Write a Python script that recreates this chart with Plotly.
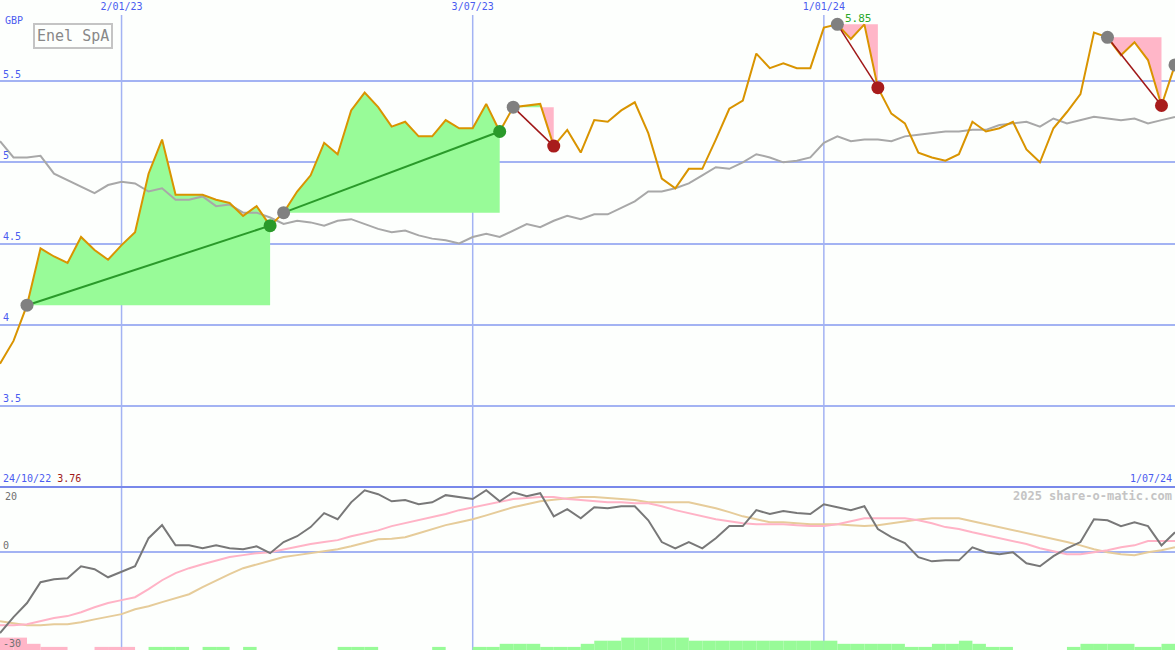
import plotly.graph_objects as go

# Enel SpA, weekly closes in GBP (x = week number, one point per week)
date_tick_weeks = [9, 35, 61]
date_tick_labels = ["2/01/23", "3/07/23", "1/01/24"]
first_date = "24/10/22"
last_date = "1/07/24"
first_close = "3.76"

price_ticks = [3.5, 4, 4.5, 5, 5.5]
price_tick_labels = ["3.5", "4", "4.5", "5", "5.5"]
osc_ticks = [0, -30]
osc_tick_labels = ["0", "-30"]
osc_top_label = "20"

price = [3.76, 3.90, 4.12, 4.47, 4.42, 4.38, 4.54, 4.46, 4.40, 4.49,
         4.57, 4.93, 5.14, 4.80, 4.80, 4.80, 4.77, 4.75, 4.67, 4.73,
         4.61, 4.69, 4.82, 4.92, 5.12, 5.05, 5.32, 5.43, 5.34, 5.22,
         5.25, 5.16, 5.16, 5.26, 5.21, 5.21, 5.36, 5.19, 5.34, 5.35,
         5.36, 5.10, 5.20, 5.06, 5.26, 5.25, 5.32, 5.37, 5.18, 4.90,
         4.84, 4.96, 4.96, 5.14, 5.33, 5.38, 5.67, 5.58, 5.61, 5.58,
         5.58, 5.83, 5.85, 5.76, 5.85, 5.46, 5.30, 5.24, 5.06, 5.03,
         5.01, 5.05, 5.25, 5.19, 5.21, 5.25, 5.08, 5.00, 5.21, 5.31,
         5.42, 5.80, 5.77, 5.66, 5.74, 5.63, 5.35, 5.60]

# comparison index, rebased to the share price
index_line = [5.13, 5.03, 5.03, 5.04, 4.93, 4.89, 4.85, 4.81, 4.86, 4.88,
              4.87, 4.82, 4.84, 4.77, 4.77, 4.79, 4.73, 4.74, 4.69, 4.69,
              4.66, 4.62, 4.64, 4.63, 4.61, 4.64, 4.65, 4.62, 4.59, 4.57,
              4.58, 4.55, 4.53, 4.52, 4.50, 4.54, 4.56, 4.54, 4.58, 4.62,
              4.60, 4.64, 4.67, 4.65, 4.68, 4.68, 4.72, 4.76, 4.82, 4.82,
              4.84, 4.87, 4.92, 4.97, 4.96, 5.00, 5.05, 5.03, 5.00, 5.01,
              5.03, 5.12, 5.16, 5.13, 5.14, 5.14, 5.13, 5.16, 5.17, 5.18,
              5.19, 5.19, 5.20, 5.20, 5.23, 5.24, 5.25, 5.22, 5.27, 5.24,
              5.26, 5.28, 5.27, 5.26, 5.27, 5.24, 5.26, 5.28]

momentum = [-24.8, -19.9, -15.6, -9.2, -8.3, -8.0, -4.3, -5.2, -7.7, -6.1,
            -4.3, 4.3, 8.3, 2.1, 2.1, 1.2, 2.1, 1.2, 0.9, 1.8,
            -0.3, 3.1, 4.9, 7.7, 12.0, 10.1, 15.3, 19.0, 17.8, 15.6,
            16.0, 14.7, 15.3, 17.5, 16.9, 16.3, 19.0, 15.6, 18.4, 17.2,
            18.1, 11.0, 13.2, 10.4, 13.8, 13.5, 14.1, 14.1, 9.8, 3.1,
            1.2, 3.1, 1.2, 4.3, 8.0, 8.0, 12.9, 11.7, 12.6, 12.0,
            11.7, 14.7, 13.8, 12.9, 14.1, 7.1, 4.6, 2.8, -1.5, -2.8,
            -2.5, -2.5, 1.5, 0.0, -0.6, 0.0, -3.4, -4.3, -1.2, 1.2,
            3.1, 10.1, 9.8, 8.0, 9.2, 8.0, 2.1, 6.1]

avg_fast = [-22.4, -22.4, -22.1, -21.2, -20.2, -19.6, -18.4, -16.9, -15.6, -14.7,
            -13.8, -11.3, -8.6, -6.4, -4.9, -3.7, -2.5, -1.5, -0.9, -0.3,
            0.0, 0.9, 1.8, 2.5, 3.1, 3.7, 4.9, 5.8, 6.7, 8.0,
            8.9, 9.8, 10.7, 11.7, 12.9, 13.8, 14.7, 15.6, 16.3, 16.6,
            16.9, 16.9, 16.3, 16.0, 15.6, 15.3, 15.3, 15.0, 15.0, 14.1,
            12.9, 12.0, 11.0, 10.1, 9.5, 8.9, 8.6, 8.6, 8.6, 8.3,
            8.0, 8.0, 8.6, 9.5, 10.4, 10.4, 10.4, 10.4, 9.8, 8.9,
            7.7, 7.1, 6.1, 5.2, 4.3, 3.4, 2.5, 1.2, 0.3, -0.6,
            -0.6, 0.0, 0.6, 1.5, 2.1, 3.4, 3.4, 3.4]

avg_slow = [-21.2, -21.8, -22.4, -22.4, -22.1, -22.1, -21.5, -20.6, -19.9, -19.0,
            -17.5, -16.6, -15.3, -14.1, -12.9, -10.7, -8.6, -6.7, -4.9, -3.7,
            -2.5, -1.5, -0.9, -0.3, 0.3, 0.9, 1.8, 2.8, 4.0, 4.1,
            4.6, 5.8, 7.1, 8.3, 9.2, 10.1, 11.3, 12.6, 13.8, 14.7,
            15.6, 16.1, 16.6, 16.9, 16.9, 16.6, 16.3, 16.0, 15.3, 15.3,
            15.3, 15.3, 14.4, 13.5, 12.3, 11.0, 10.1, 9.2, 9.2, 8.9,
            8.6, 8.6, 8.6, 8.3, 8.0, 8.3, 8.9, 9.5, 10.0, 10.4,
            10.4, 10.4, 9.5, 8.6, 7.7, 6.7, 5.8, 5.1, 4.0, 3.1,
            2.1, 0.9, 0.0, -0.6, -0.9, 0.0, 0.6, 1.5]

# strength bars at the foot of the lower panel (+ green, - pink)
bar_levels = [-4, -4, -2, -1, -1, 0, 0, -1, -1, -1,
              0, 1, 1, 1, 0, 1, 1, 0, 1, 0,
              0, 0, 0, 0, 0, 1, 1, 1, 0, 0,
              0, 0, 1, 0, 0, 1, 1, 2, 2, 2,
              1, 1, 1, 2, 3, 3, 4, 4, 4, 4,
              4, 3, 3, 3, 3, 3, 3, 3, 3, 3,
              3, 3, 2, 2, 2, 2, 2, 1, 1, 2,
              2, 3, 2, 1, 1, 0, 0, 0, 0, 1,
              2, 2, 2, 2, 1, 1, 2, 2]

# (start week, end week) of each marked trend
trends = [(2, 20), (21, 37), (38, 41), (62, 65), (82, 86)]
open_trend_start = 87

BLUE_TEXT = "#4b5cf0"
GRID = "#a3b3f3"
ORANGE = "#d99400"
GREEN_FILL = "#98fb98"
PINK_FILL = "#ffb6c8"
FONT = "DejaVu Sans Mono"

weeks = list(range(len(price)))
fig = go.Figure()


def split_at_base(xs, ys, base):
    # add crossing points so the part above / below the base can be filled apart
    px, py = [xs[0]], [ys[0]]
    for k in range(1, len(xs)):
        y0, y1 = ys[k - 1], ys[k]
        if (y0 - base) * (y1 - base) < 0:
            xc = xs[k - 1] + (base - y0) / (y1 - y0) * (xs[k] - xs[k - 1])
            px.append(xc)
            py.append(base)
        px.append(xs[k])
        py.append(ys[k])
    return px, py


for s, e in trends:
    xs = weeks[s:e + 1]
    ys = price[s:e + 1]
    base = price[s]
    px, py = split_at_base(xs, ys, base)
    for colour, pick in ((GREEN_FILL, max), (PINK_FILL, min)):
        fx = px + [px[-1], px[0]]
        fy = [pick(v, base) for v in py] + [base, base]
        fig.add_trace(go.Scatter(x=fx, y=fy, fill="toself", fillcolor=colour,
                                 line=dict(width=0), mode="lines", hoverinfo="skip"))

fig.add_trace(go.Scatter(x=weeks, y=index_line, mode="lines",
                         line=dict(color="#a8a8a8", width=2)))
fig.add_trace(go.Scatter(x=weeks, y=price, mode="lines",
                         line=dict(color=ORANGE, width=2)))

for s, e in trends:
    up = price[e] > price[s]
    fig.add_trace(go.Scatter(x=[s, e], y=[price[s], price[e]], mode="lines",
                             line=dict(color="#2a9a2a" if up else "#a01818", width=2 if up else 1.5)))

starts = [s for s, e in trends] + [open_trend_start]
fig.add_trace(go.Scatter(x=starts, y=[price[s] for s in starts], mode="markers",
                         marker=dict(color="#808080", size=13)))
ends = [e for s, e in trends]
fig.add_trace(go.Scatter(x=ends, y=[price[e] for e in ends], mode="markers",
                         marker=dict(color=["#2a9a2a" if price[e] > price[s] else "#a81c1c"
                                            for s, e in trends], size=13)))

# lower panel
fig.add_trace(go.Bar(x=[w + 0.5 for w in weeks], y=[abs(v) * 0.95 for v in bar_levels],
                     base=-30, width=1, yaxis="y2",
                     marker=dict(color=[GREEN_FILL if v > 0 else PINK_FILL for v in bar_levels],
                                 line=dict(width=0))))
fig.add_trace(go.Scatter(x=weeks, y=avg_slow, mode="lines", yaxis="y2",
                         line=dict(color="#e6cc9a", width=2)))
fig.add_trace(go.Scatter(x=weeks, y=avg_fast, mode="lines", yaxis="y2",
                         line=dict(color="#ffb3c6", width=2)))
fig.add_trace(go.Scatter(x=weeks, y=momentum, mode="lines", yaxis="y2",
                         line=dict(color="#787878", width=2)))

split = 163 / 650
shapes = [dict(type="line", xref="x", yref="paper", x0=t, x1=t, y0=0, y1=1 - 15 / 650,
               line=dict(color=GRID, width=1.5), layer="below") for t in date_tick_weeks]
shapes.append(dict(type="line", xref="paper", yref="paper", x0=0, x1=1, y0=split, y1=split,
                   line=dict(color="#7888ea", width=2)))


def note(text, x, y_px, xanchor, color, size, xshift=0):
    return dict(text=text, x=x, y=1 - y_px / 650, xref="paper", yref="paper",
                xanchor=xanchor, yanchor="middle", xshift=xshift, showarrow=False,
                font=dict(color=color, size=size, family=FONT))


peak = price.index(max(price))
annotations = [
    note("GBP", 0, 21, "left", BLUE_TEXT, 10, xshift=3),
    dict(text="Enel SpA", x=73 / 1175, y=1 - 36.5 / 650, xref="paper", yref="paper",
         xanchor="center", yanchor="middle", showarrow=False,
         bordercolor="#c4c4c4", borderwidth=2, borderpad=2,
         font=dict(color="#888888", size=15, family=FONT)),
    dict(text=f"{max(price):.2f}", x=peak, y=max(price), xref="x", yref="y",
         xanchor="left", yanchor="bottom", xshift=6, yshift=-3, showarrow=False,
         font=dict(color="#2aa82a", size=11, family=FONT)),
    note(f"{first_date} <span style='color:#a01818'>{first_close}</span>", 0, 478,
         "left", BLUE_TEXT, 10, xshift=1),
    note(last_date, 1, 478, "right", BLUE_TEXT, 10, xshift=-1),
    note("<b>2025 share-o-matic.com</b>", 1, 496, "right", "#c4c4c4", 12, xshift=-1),
    note(osc_top_label, 0, 496, "left", "#707070", 10, xshift=3),
]

fig.update_layout(
    width=1175, height=650,
    margin=dict(l=0, r=0, t=0, b=0),
    paper_bgcolor="#fdfffd", plot_bgcolor="#fdfffd",
    showlegend=False,
    xaxis=dict(range=[0, len(price) - 1], side="top", anchor="y",
               tickvals=date_tick_weeks, ticktext=date_tick_labels,
               ticklabelposition="inside", ticks="", showgrid=False, zeroline=False,
               tickfont=dict(color=BLUE_TEXT, size=10, family=FONT)),
    yaxis=dict(domain=[split, 1], range=[3, 6], tickvals=price_ticks, ticktext=price_tick_labels,
               ticklabelposition="inside top", ticks="", showgrid=True, gridcolor=GRID,
               gridwidth=2, zeroline=False,
               tickfont=dict(color=BLUE_TEXT, size=10, family=FONT)),
    yaxis2=dict(domain=[0, split], range=[-30, 20], anchor="x", tickvals=osc_ticks,
                ticktext=osc_tick_labels, ticklabelposition="inside top", ticks="",
                showgrid=False, zeroline=True, zerolinecolor=GRID, zerolinewidth=2,
                tickfont=dict(color="#707070", size=10, family=FONT)),
    shapes=shapes,
    annotations=annotations,
)

# the page's default body margin would push the fixed-size chart out of the window
fig.write_html("out.html", config={"displayModeBar": False},
               post_script="document.body.style.margin='0';document.body.style.overflow='hidden';")
